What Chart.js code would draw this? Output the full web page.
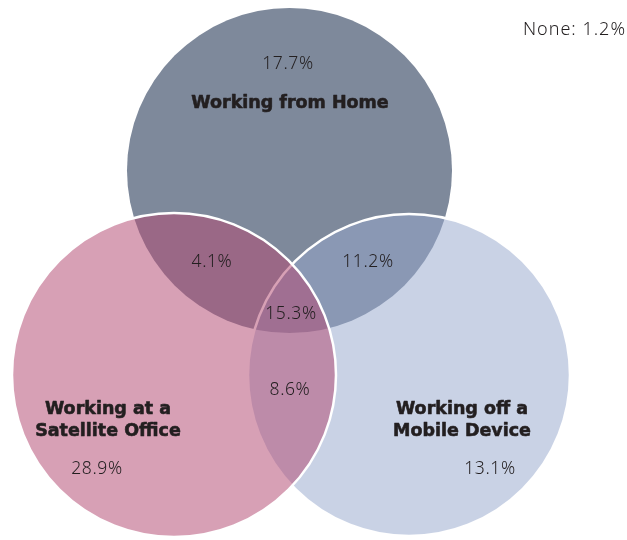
<!DOCTYPE html>
<html>
<head>
<meta charset="utf-8">
<script src="https://cdn.jsdelivr.net/npm/chart.js@4"></script>
<style>
  html, body { margin: 0; padding: 0; background: #ffffff; }
  #wrap { width: 627px; height: 540px; position: relative; }
</style>
</head>
<body>
<div id="wrap"><canvas id="c"></canvas></div>
<script>
// ---- data ----
const sets = ["Working from Home", "Working off a Mobile Device", "Working at a Satellite Office"];
const setLabelLines = [["Working from Home"], ["Working off a", "Mobile Device"], ["Working at a", "Satellite Office"]];
const onlyShares = ["17.7%", "13.1%", "28.9%"];          // single-set regions
const pairNames = ["Home & Satellite", "Home & Mobile", "Satellite & Mobile"];
const pairShares = ["4.1%", "11.2%", "8.6%"];
const allThreeShare = "15.3%";
const noneShare = "None: 1.2%";

// ---- layout (diagram geometry in canvas units) ----
const circleX = [289.5, 409, 174];
const circleY = [170.5, 375, 375];
const circleR = [162.5, 161, 162];
const circleFill = ["rgb(126,137,155)", "rgba(149,167,204,0.51)", "rgba(179,75,116,0.53)"];
const circleBorder = [0, 2.5, 2.5];

const setLabelPos = [[290, 103], [462, 409], [108, 409]];
const onlyPos = [[288, 64], [490, 469], [97, 469]];
const pairPos = [[212, 262], [368, 262], [290, 390]];
const allThreePos = [291, 314];
const nonePos = [626, 30];

const TEXT = "#231f20";
const BOLD = "bold 17.5px 'DejaVu Sans', sans-serif";
const LIGHT = "300 17.5px 'Noto Sans', sans-serif";
const NONEFONT = "300 18px 'Noto Sans', sans-serif";

const textPlugin = {
  id: 'vennText',
  afterDatasetsDraw(chart) {
    const ctx = chart.ctx;
    const sx = chart.scales.x, sy = chart.scales.y;
    const P = (p) => [sx.getPixelForValue(p[0]), sy.getPixelForValue(p[1])];
    ctx.save();
    ctx.fillStyle = TEXT;
    ctx.strokeStyle = TEXT;
    ctx.lineWidth = 0.6;
    ctx.lineJoin = 'round';
    ctx.textBaseline = 'middle';
    ctx.textAlign = 'center';
    ctx.font = BOLD;
    setLabelLines.forEach((lines, i) => {
      const [x, y] = P(setLabelPos[i]);
      lines.forEach((ln, k) => { ctx.fillText(ln, x, y + k * 22); ctx.strokeText(ln, x, y + k * 22); });
    });
    ctx.font = LIGHT;
    if ('letterSpacing' in ctx) ctx.letterSpacing = '0.6px';
    onlyShares.forEach((s, i) => { const [x, y] = P(onlyPos[i]); ctx.fillText(s, x, y); });
    pairShares.forEach((s, i) => { const [x, y] = P(pairPos[i]); ctx.fillText(s, x, y); });
    { const [x, y] = P(allThreePos); ctx.fillText(allThreeShare, x, y); }
    ctx.textAlign = 'right';
    ctx.font = NONEFONT;
    if ('letterSpacing' in ctx) ctx.letterSpacing = '1px';
    { const [x, y] = P(nonePos); ctx.fillText(noneShare, x, y); }
    ctx.restore();
  }
};

// radius given in the same canvas units as the (1:1) x scale
const points = sets.map((name, i) => ({ x: circleX[i], y: circleY[i], r: circleR[i] }));

new Chart(document.getElementById('c'), {
  type: 'bubble',
  data: {
    datasets: [{
      label: 'Sets',
      data: points,
      backgroundColor: circleFill,
      borderColor: '#ffffff',
      borderWidth: circleBorder,
      hoverRadius: 0,
      clip: false
    }]
  },
  options: {
    responsive: true,
    maintainAspectRatio: false,
    animation: false,
    events: [],
    layout: { padding: 0, autoPadding: false },
    plugins: { legend: { display: false }, tooltip: { enabled: false } },
    scales: {
      x: { type: 'linear', min: 0, max: 627, display: false },
      y: { type: 'linear', min: 0, max: 540, reverse: true, display: false }
    }
  },
  plugins: [textPlugin]
});
</script>
</body>
</html>
